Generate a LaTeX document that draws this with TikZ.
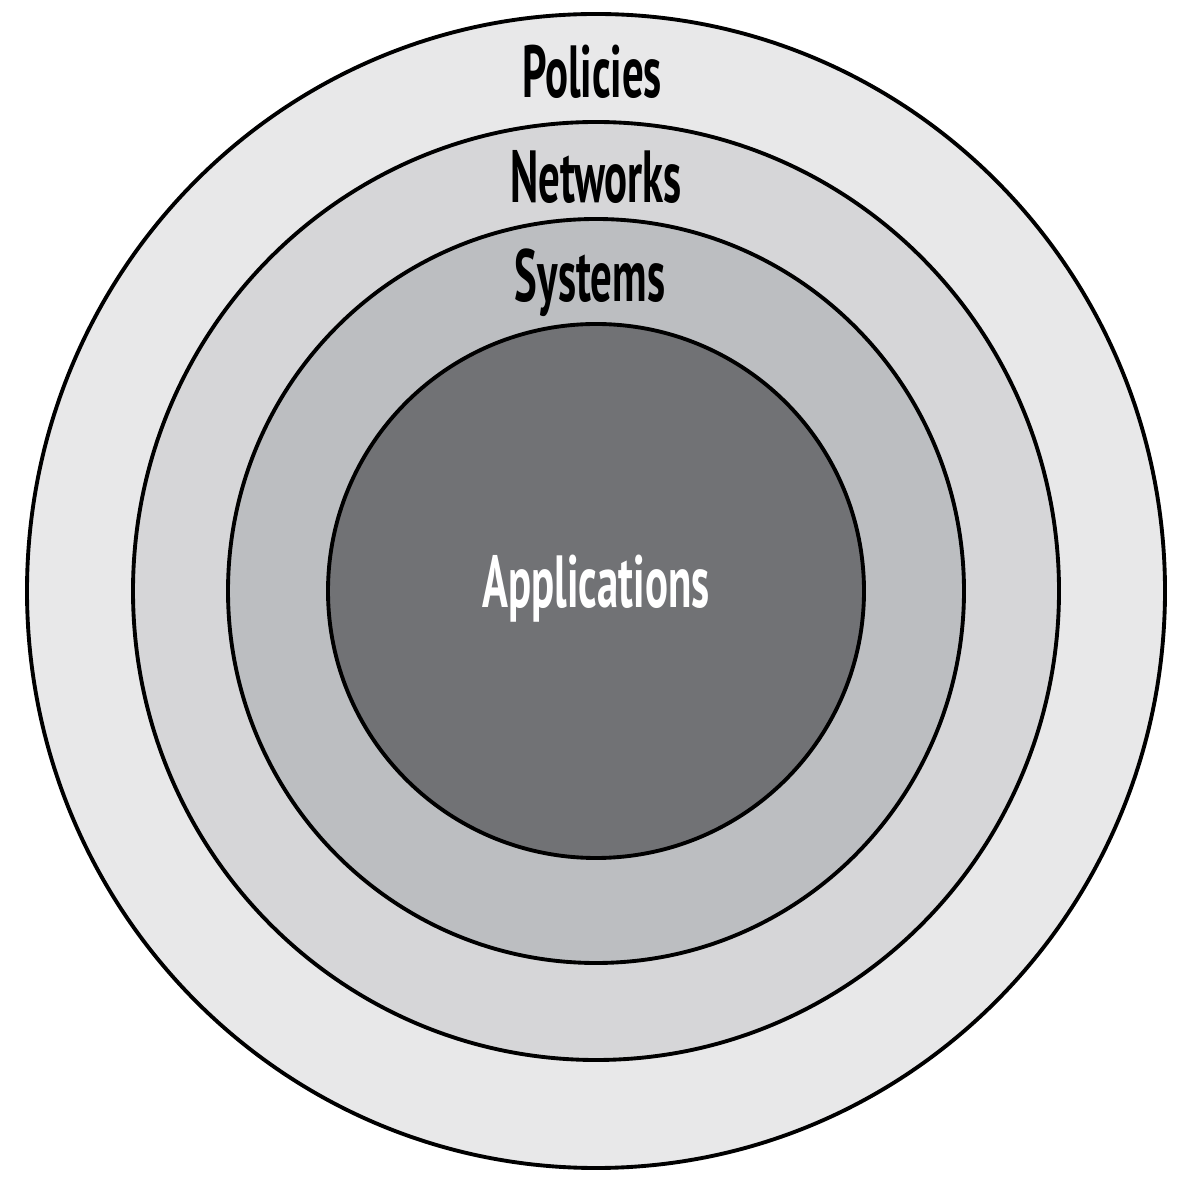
\documentclass[tikz,border=0pt]{standalone}
\usepackage{fontspec}
\setmainfont{PT Sans}
\usepackage{xcolor}
\usepackage{graphicx}
\usetikzlibrary{positioning}
\definecolor{policyfill}{HTML}{E8E8E9}
\definecolor{networkfill}{HTML}{D6D6D8}
\definecolor{systemfill}{HTML}{BCBEC1}
\definecolor{appfill}{HTML}{717275}

\begin{document}
\begin{tikzpicture}[x=0.01cm,y=-0.01cm,
        ring/.style={draw=black, line width=1.1pt},
        layer/.style={font=\fontsize{21}{25}\selectfont\bfseries, inner sep=0pt, anchor=base}]
    \useasboundingbox (0,0) rectangle (1188,1186);
    \coordinate (ctr) at (596,591);
    % rings, outside in
    \filldraw[ring, fill=policyfill]  (ctr) ellipse [x radius=569, y radius=577];
    \filldraw[ring, fill=networkfill] (ctr) ellipse [x radius=463, y radius=469];
    \filldraw[ring, fill=systemfill]  (ctr) ellipse [x radius=368, y radius=372];
    \filldraw[ring, fill=appfill]     (ctr) ellipse [x radius=268, y radius=267];
    % labels
    \node[layer] (policies) at (592,98)  {\scalebox{0.58}[1]{Policies}};
    \node[layer] (networks) at (596,203) {\scalebox{0.58}[1]{Networks}};
    \node[layer] (systems)  at (590,302) {\scalebox{0.58}[1]{Systems}};
    \node[layer, text=white] (apps) at (596,608) {\scalebox{0.58}[1]{Applications}};
\end{tikzpicture}
\end{document}
